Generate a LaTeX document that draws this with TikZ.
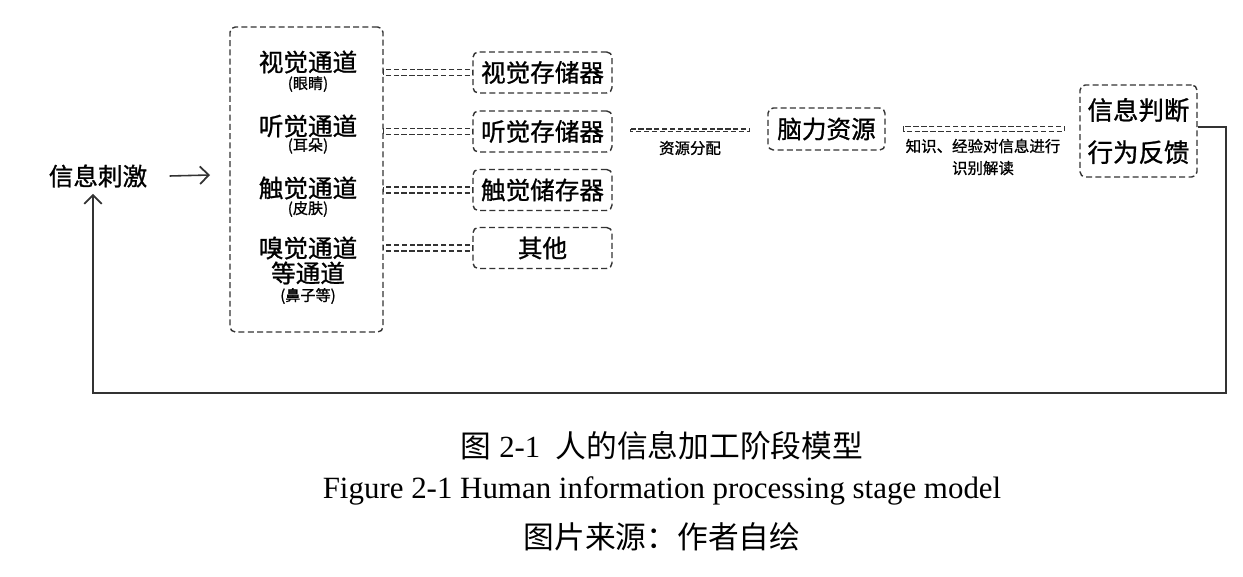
\documentclass[tikz,border=0pt]{standalone}
\usepackage{fontspec}
\setmainfont{Liberation Serif}
\newfontfamily\cjk{Noto Sans CJK SC}
\newfontfamily\cjkb[FakeBold=1]{Noto Sans CJK SC}
\usetikzlibrary{calc,arrows.meta}
\begin{document}
\begin{tikzpicture}[x=0.02cm,y=-0.02cm,
  dbox/.style={draw=black!80,line width=0.8pt,dash pattern=on 3.4pt off 1.9pt,rounded corners=3pt,inner sep=0pt},
  link/.style={draw=black!80,line width=0.7pt,dash pattern=on 3pt off 1.5pt},
  bigtxt/.style={font=\cjkb\fontsize{14}{16}\selectfont,inner sep=0pt},
  subtxt/.style={font=\cjkb\fontsize{8.6}{10}\selectfont,inner sep=0pt},
  lbl/.style={font=\cjkb\fontsize{8.8}{10}\selectfont,inner sep=0pt,align=center},
  flow/.style={draw=black!80,line width=1.1pt},
  tip/.style={-{Straight Barb[length=5pt,width=10pt,line width=1pt]}}
]
\useasboundingbox (0,0) rectangle (1243,577);

% sensory channels
\node[dbox,minimum width=153*0.02cm,minimum height=305*0.02cm] (chan) at (306.5,179.5) {};
\node[bigtxt] (c1) at (308,62) {视觉通道};
\node[subtxt] (c1s) at (308,84) {(眼睛)};
\node[bigtxt] (c2) at (308,126) {听觉通道};
\node[subtxt] (c2s) at (308,146) {(耳朵)};
\node[bigtxt] (c3) at (308,188) {触觉通道};
\node[subtxt] (c3s) at (308,209) {(皮肤)};
\node[bigtxt] (c4) at (308,248) {嗅觉通道};
\node[bigtxt] (c4b) at (308,273) {等通道};
\node[subtxt] (c4s) at (308,296) {(鼻子等)};

% sensory stores
\tikzset{store/.style={dbox,minimum width=139*0.02cm,minimum height=41*0.02cm,font=\cjkb\fontsize{14}{16}\selectfont}}
\node[store] (s1) at (542.5,72.5) {视觉存储器};
\node[store] (s2) at (542.5,131.5) {听觉存储器};
\node[store] (s3) at (542.5,190) {触觉储存器};
\node[store] (s4) at (542.5,248) {其他};

\foreach \s in {s1,s2,s3,s4}{
  \draw[link] ($(chan.east |- \s.west)+(0,-3)$) rectangle ($(\s.west)+(0,3)$);
}

% attention resources
\node[dbox,minimum width=117*0.02cm,minimum height=42*0.02cm,font=\cjkb\fontsize{14}{16}\selectfont] (brain) at (826.5,129) {脑力资源};
\draw[link] ($(s2.east)+(18,-2.5)$) rectangle ($(brain.west)+(-18,2.5)$);
\node[lbl] (l1) at (690,148) {资源分配};

% decision and response
\node[dbox,minimum width=117*0.02cm,minimum height=92*0.02cm,align=center,font=\cjkb\fontsize{14.5}{24}\selectfont] (dec) at (1138.5,131) {信息判断\\行为反馈};
\draw[link] ($(brain.east)+(18,-2.5)$) rectangle ($(dec.west |- brain.east)+(-15,2.5)$);
\node[lbl] (l2) at (983,146) {知识、经验对信息进行};
\node[lbl] (l3) at (983,168) {识别解读};

% stimulus and feedback loop
\node[bigtxt] (stim) at (98,176) {信息刺激};
\coordinate (ain) at (210,175);
\draw[flow,tip,line width=0.9pt] ($(stim.east)+(22,0)$) -- (ain);
\coordinate (fb1) at (1226,127);
\coordinate (fb2) at (1226,393);
\coordinate (fb3) at (93,393);
\draw[flow,tip] (dec.east |- fb1) -- (fb1) -- (fb2) -- (fb3) -- ($(stim.south)+(-5,6)$);

% caption
\node[inner sep=0pt,font=\fontsize{17.5}{20}\selectfont] (cap1) at (662,446) {{\cjk 图} 2-1\ \ {\cjk 人的信息加工阶段模型}};
\node[inner sep=0pt,font=\fontsize{17.6}{20}\selectfont] (cap2) at (662,491) {Figure 2-1 Human information processing stage model};
\node[inner sep=0pt,font=\cjk\fontsize{17.5}{20}\selectfont] (cap3) at (662,537) {图片来源：作者自绘};
\end{tikzpicture}
\end{document}
